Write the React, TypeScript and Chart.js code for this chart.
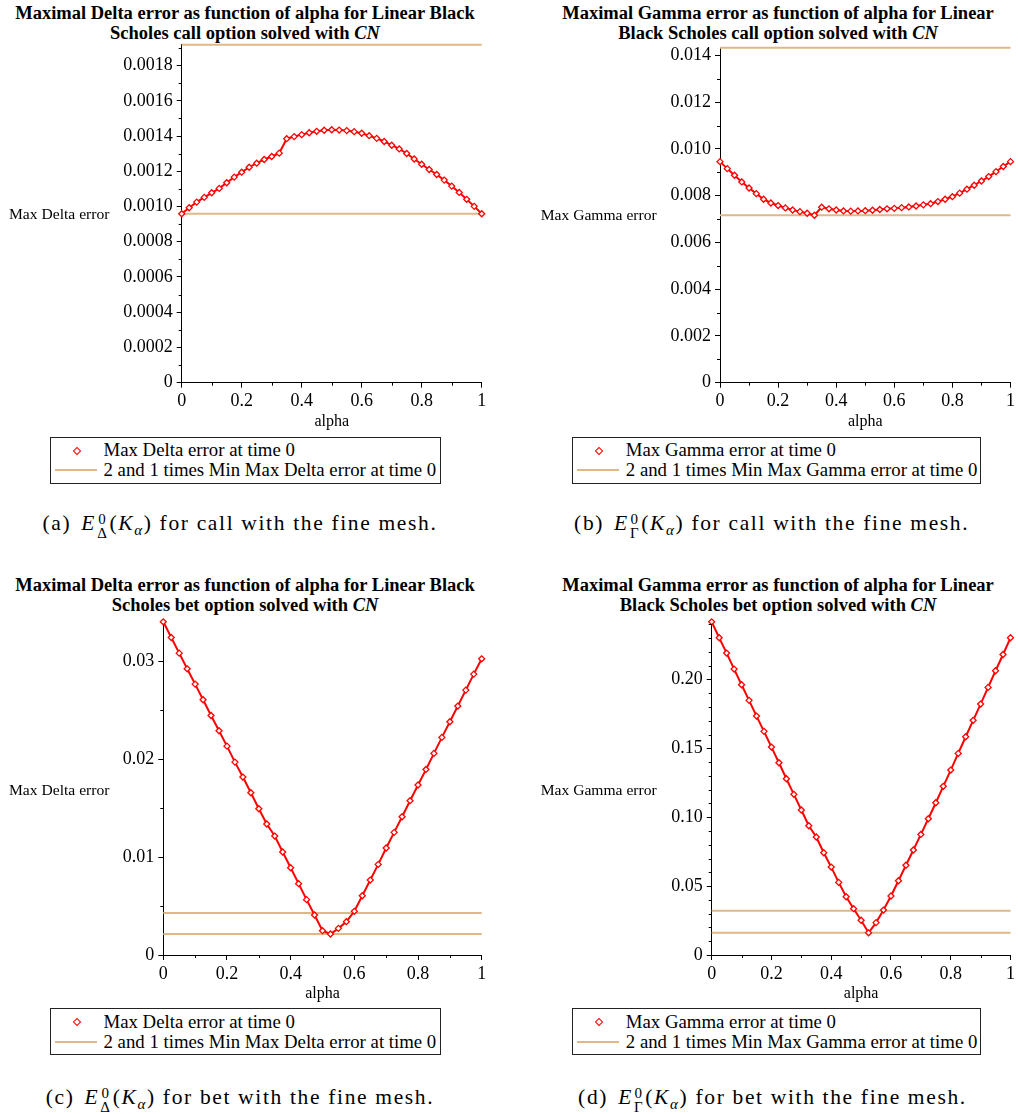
import React, { useEffect, useRef } from "react";
import { Chart, registerables } from "chart.js";

Chart.register(...registerables);

// ---------- data ----------
const ALPHA = [
  0, 0.025, 0.05, 0.075, 0.1, 0.125, 0.15, 0.175, 0.2, 0.225, 0.25, 0.275, 0.3, 0.325, 0.35, 0.375, 0.4, 0.425, 0.45,
  0.475, 0.5, 0.525, 0.55, 0.575, 0.6, 0.625, 0.65, 0.675, 0.7, 0.725, 0.75, 0.775, 0.8, 0.825, 0.85, 0.875, 0.9,
  0.925, 0.95, 0.975, 1,
];

const CALL_DELTA = [
  0.000959, 0.000993, 0.001025, 0.001052, 0.001078, 0.001103, 0.001135, 0.001167, 0.001195, 0.001223, 0.001246,
  0.001267, 0.001284, 0.001303, 0.001385, 0.001397, 0.001408, 0.001419, 0.001427, 0.001433, 0.001436, 0.001434,
  0.001431, 0.001425, 0.001416, 0.001402, 0.001387, 0.001369, 0.001348, 0.001327, 0.001301, 0.00127, 0.00124,
  0.00121, 0.001182, 0.00115, 0.001116, 0.00108, 0.001041, 0.001001, 0.000959,
];
const CALL_GAMMA = [
  0.009459, 0.00916, 0.008875, 0.00859, 0.00833, 0.00809, 0.00785, 0.00769, 0.00758, 0.00748, 0.00739, 0.00732,
  0.00725, 0.007165, 0.00751, 0.00744, 0.00739, 0.00735, 0.00734, 0.00735, 0.00736, 0.00738, 0.00741, 0.00744,
  0.00746, 0.00749, 0.00752, 0.00756, 0.00761, 0.00766, 0.00775, 0.00785, 0.00796, 0.00811, 0.00828, 0.00845,
  0.00863, 0.00882, 0.00903, 0.00925, 0.009459,
];
const BET_DELTA = [
  0.03401, 0.03241, 0.03081, 0.02921, 0.02765, 0.02605, 0.02445, 0.02289, 0.02132, 0.01969, 0.01816, 0.01656,
  0.01493, 0.01337, 0.01214, 0.01051, 0.00891, 0.00728, 0.00565, 0.00408, 0.00248, 0.00214, 0.00272, 0.0034,
  0.00446, 0.00605, 0.00765, 0.00925, 0.01092, 0.01252, 0.01411, 0.01575, 0.01735, 0.01894, 0.02058, 0.02221,
  0.02381, 0.02541, 0.02704, 0.02867, 0.03023,
];
const BET_GAMMA = [
  0.2418, 0.2302, 0.2191, 0.2075, 0.1961, 0.1848, 0.1734, 0.1623, 0.1509, 0.1395, 0.1279, 0.1166, 0.1052, 0.0938,
  0.0856, 0.0742, 0.0638, 0.0527, 0.0423, 0.0336, 0.0252, 0.0161, 0.0235, 0.0326, 0.0428, 0.0539, 0.0651, 0.0762,
  0.0875, 0.0989, 0.1105, 0.1224, 0.1342, 0.1463, 0.1584, 0.1703, 0.1821, 0.1942, 0.2063, 0.2181, 0.2302,
];

// minimum of each max-error curve (reference lines drawn at 1x and 2x)
const CALL_DELTA_MIN = 0.000959;
const CALL_GAMMA_MIN = 0.007165;
const BET_DELTA_MIN = 0.00214;
const BET_GAMMA_MIN = 0.0161;

// axis tops
const CALL_DELTA_YMAX = 0.001918;
const CALL_GAMMA_YMAX = 0.01433;
const BET_DELTA_YMAX = 0.03401;
const BET_GAMMA_YMAX = 0.2418;

// ticks
const X_TICKS = [0, 0.2, 0.4, 0.6, 0.8, 1];
const X_LABELS = ["0", "0.2", "0.4", "0.6", "0.8", "1"];
const X_MINOR = [0.1, 0.3, 0.5, 0.7, 0.9];

const CALL_DELTA_YTICKS = [0, 0.0002, 0.0004, 0.0006, 0.0008, 0.001, 0.0012, 0.0014, 0.0016, 0.0018];
const CALL_DELTA_YLABELS = ["0", "0.0002", "0.0004", "0.0006", "0.0008", "0.0010", "0.0012", "0.0014", "0.0016", "0.0018"];
const CALL_DELTA_YMINOR = [0.0001, 0.0003, 0.0005, 0.0007, 0.0009, 0.0011, 0.0013, 0.0015, 0.0017, 0.0019];

const CALL_GAMMA_YTICKS = [0, 0.002, 0.004, 0.006, 0.008, 0.01, 0.012, 0.014];
const CALL_GAMMA_YLABELS = ["0", "0.002", "0.004", "0.006", "0.008", "0.010", "0.012", "0.014"];
const CALL_GAMMA_YMINOR = [0.001, 0.003, 0.005, 0.007, 0.009, 0.011, 0.013];

const BET_DELTA_YTICKS = [0, 0.01, 0.02, 0.03];
const BET_DELTA_YLABELS = ["0", "0.01", "0.02", "0.03"];
const BET_DELTA_YMINOR = [0.005, 0.015, 0.025];

const BET_GAMMA_YTICKS = [0, 0.05, 0.1, 0.15, 0.2];
const BET_GAMMA_YLABELS = ["0", "0.05", "0.10", "0.15", "0.20"];
const BET_GAMMA_YMINOR = [
  0.01, 0.02, 0.03, 0.04, 0.06, 0.07, 0.08, 0.09, 0.11, 0.12, 0.13, 0.14, 0.16, 0.17, 0.18, 0.19, 0.21, 0.22, 0.23,
  0.24,
];

// ---------- styling ----------
const SERIF = '"Liberation Serif", "Times New Roman", serif';
const RED = "#ff0000";
const TAN = "#DEB887";

type Box = { left: number; top: number; width: number; height: number };
type Plot = { L: number; T: number; R: number; B: number };

type PanelProps = {
  values: number[];
  minVal: number;
  yMax: number;
  yTicks: number[];
  yLabels: string[];
  yMinor: number[];
  canvas: Box;
  plot: Plot;
};

function ChartPanel(p: PanelProps) {
  const ref = useRef<HTMLCanvasElement | null>(null);
  const c = p.canvas;
  const a = p.plot;

  useEffect(() => {
    if (!ref.current) return;
    const padTop = a.T - c.top;
    const padRight = c.left + c.width - a.R;
    const yW = a.L - c.left;
    const xH = c.top + c.height - a.B;

    const minorPlugin = {
      id: "minorTicks",
      afterDraw(chart: any) {
        const ctx = chart.ctx;
        const xs = chart.scales.x;
        const ys = chart.scales.y;
        ctx.save();
        ctx.strokeStyle = "#000";
        ctx.lineWidth = 1;
        ctx.beginPath();
        for (const v of X_MINOR) {
          const px = Math.round(xs.getPixelForValue(v)) + 0.5;
          ctx.moveTo(px, xs.top);
          ctx.lineTo(px, xs.top + 3);
        }
        for (const v of p.yMinor) {
          if (v > p.yMax) continue;
          const py = Math.round(ys.getPixelForValue(v)) + 0.5;
          ctx.moveTo(ys.right - 3, py);
          ctx.lineTo(ys.right, py);
        }
        ctx.stroke();
        ctx.restore();
      },
    };

    const chart = new Chart(ref.current, {
      type: "line",
      data: {
        datasets: [
          {
            data: ALPHA.map((x, i) => ({ x, y: p.values[i] })),
            borderColor: RED,
            borderWidth: 2,
            pointStyle: "rectRot",
            pointRadius: 3,
            pointBorderWidth: 1.3,
            pointBorderColor: RED,
            pointBackgroundColor: "#ffffff",
            tension: 0,
            clip: false,
          } as any,
          {
            data: [
              { x: 0, y: 2 * p.minVal },
              { x: 1, y: 2 * p.minVal },
            ],
            borderColor: TAN,
            borderWidth: 2,
            pointRadius: 0,
            clip: false,
          } as any,
          {
            data: [
              { x: 0, y: p.minVal },
              { x: 1, y: p.minVal },
            ],
            borderColor: TAN,
            borderWidth: 2,
            pointRadius: 0,
            clip: false,
          } as any,
        ],
      },
      options: {
        animation: false,
        responsive: false,
        maintainAspectRatio: false,
        events: [],
        layout: { padding: { top: padTop, right: padRight, left: 0, bottom: 0 } },
        plugins: {
          legend: { display: false },
          title: { display: false },
          tooltip: { enabled: false },
        },
        scales: {
          x: {
            type: "linear",
            min: 0,
            max: 1,
            afterFit: (s: any) => {
              s.height = xH;
            },
            afterBuildTicks: (s: any) => {
              s.ticks = X_TICKS.map((v) => ({ value: v }));
            },
            ticks: {
              callback: (_v: any, i: number) => X_LABELS[i],
              font: { family: SERIF, size: 18 },
              color: "#000",
              padding: 3,
              maxRotation: 0,
              autoSkip: false,
            },
            grid: { drawOnChartArea: false, tickLength: 5, tickColor: "#000", color: "#000" },
            border: { color: "#000", width: 1 },
            title: { display: true, text: "alpha", font: { family: SERIF, size: 16 }, color: "#000", padding: 0 },
          },
          y: {
            type: "linear",
            min: 0,
            max: p.yMax,
            afterFit: (s: any) => {
              s.width = yW;
            },
            afterBuildTicks: (s: any) => {
              s.ticks = p.yTicks.map((v) => ({ value: v }));
            },
            ticks: {
              callback: (_v: any, i: number) => p.yLabels[i],
              font: { family: SERIF, size: 18 },
              color: "#000",
              padding: 4,
              autoSkip: false,
            },
            grid: { drawOnChartArea: false, tickLength: 5, tickColor: "#000", color: "#000" },
            border: { color: "#000", width: 1 },
          },
        },
      } as any,
      plugins: [minorPlugin],
    });
    return () => chart.destroy();
  }, []);

  return (
    <canvas
      ref={ref}
      width={c.width}
      height={c.height}
      style={{ position: "absolute", left: c.left, top: c.top, width: c.width, height: c.height }}
    />
  );
}

function Title({ cx, top, line1, line2 }: { cx: number; top: number; line1: string; line2: string }) {
  return (
    <div
      style={{
        position: "absolute",
        left: cx - 270,
        top,
        width: 540,
        textAlign: "center",
        font: `bold 18.5px ${SERIF}`,
        lineHeight: "20.7px",
        color: "#000",
        whiteSpace: "nowrap",
      }}
    >
      {line1}
      <br />
      {line2} <i>CN</i>
    </div>
  );
}

function YLabel({ left, cy, text }: { left: number; cy: number; text: string }) {
  return (
    <div
      style={{
        position: "absolute",
        left,
        top: cy - 9,
        font: `15.6px ${SERIF}`,
        lineHeight: "18px",
        color: "#000",
        whiteSpace: "nowrap",
      }}
    >
      {text}
    </div>
  );
}

function Legend({ left, top, width, label1, label2 }: { left: number; top: number; width: number; label1: string; label2: string }) {
  return (
    <div
      style={{
        position: "absolute",
        left,
        top,
        width,
        height: 47,
        border: "1.5px solid #222",
        boxSizing: "border-box",
        background: "#fff",
      }}
    >
      <div
        style={{
          position: "absolute",
          left: 22.5,
          top: 10,
          width: 4,
          height: 4,
          border: `1.3px solid ${RED}`,
          background: "#fff",
          transform: "rotate(45deg)",
        }}
      />
      <div style={{ position: "absolute", left: 3.5, top: 31.5, width: 42, height: 2, background: TAN }} />
      <div
        style={{ position: "absolute", left: 52.5, top: 1.5, font: `18.8px ${SERIF}`, lineHeight: "22px", whiteSpace: "nowrap" }}
      >
        {label1}
      </div>
      <div
        style={{ position: "absolute", left: 52.5, top: 21.5, font: `18.8px ${SERIF}`, lineHeight: "22px", whiteSpace: "nowrap" }}
      >
        {label2}
      </div>
    </div>
  );
}

function Caption({ cx, cy, tag, sub, kind }: { cx: number; cy: number; tag: string; sub: string; kind: string }) {
  return (
    <div
      style={{
        position: "absolute",
        left: cx - 250,
        top: cy - 14,
        width: 500,
        textAlign: "center",
        font: `21.5px ${SERIF}`,
        lineHeight: "28px",
        letterSpacing: "1.65px",
        color: "#000",
        whiteSpace: "nowrap",
      }}
    >
      <span>({tag})</span>
      <span style={{ display: "inline-block", width: 10 }} />
      <i>E</i>
      <span
        style={{
          display: "inline-flex",
          flexDirection: "column",
          verticalAlign: "middle",
          fontSize: "15px",
          lineHeight: "14px",
          marginLeft: 1,
          marginRight: 1,
          position: "relative",
          top: 1,
        }}
      >
        <span>0</span>
        <span>{sub}</span>
      </span>
      (<i>K</i>
      <sub style={{ fontSize: "15px", fontStyle: "italic" }}>α</sub>) for {kind} with the fine mesh.
    </div>
  );
}

export default function App() {
  return (
    <div style={{ position: "absolute", left: 0, top: 0, width: 1018, height: 1114, background: "#fff", overflow: "hidden" }}>
      {/* (a) */}
      <Title cx={245} top={2.5} line1="Maximal Delta error as function of alpha for Linear Black" line2="Scholes call option solved with" />
      <ChartPanel
        values={CALL_DELTA}
        minVal={CALL_DELTA_MIN}
        yMax={CALL_DELTA_YMAX}
        yTicks={CALL_DELTA_YTICKS}
        yLabels={CALL_DELTA_YLABELS}
        yMinor={CALL_DELTA_YMINOR}
        canvas={{ left: 0, top: 30, width: 490, height: 401 }}
        plot={{ L: 181.7, T: 44, R: 481.7, B: 382.7 }}
      />
      <YLabel left={9} cy={214} text="Max Delta error" />
      <Legend left={50} top={436.7} width={390.7} label1="Max Delta error at time 0" label2="2 and 1 times Min Max Delta error at time 0" />
      <Caption cx={240} cy={523.3} tag="a" sub="Δ" kind="call" />

      {/* (b) */}
      <Title cx={778} top={2.5} line1="Maximal Gamma error as function of alpha for Linear" line2="Black Scholes call option solved with" />
      <ChartPanel
        values={CALL_GAMMA}
        minVal={CALL_GAMMA_MIN}
        yMax={CALL_GAMMA_YMAX}
        yTicks={CALL_GAMMA_YTICKS}
        yLabels={CALL_GAMMA_YLABELS}
        yMinor={CALL_GAMMA_YMINOR}
        canvas={{ left: 520, top: 33, width: 498, height: 398 }}
        plot={{ L: 720, T: 47.3, R: 1013.3, B: 382.7 }}
      />
      <YLabel left={540.7} cy={215} text="Max Gamma error" />
      <Legend left={572.3} top={436.7} width={408.7} label1="Max Gamma error at time 0" label2="2 and 1 times Min Max Gamma error at time 0" />
      <Caption cx={771.7} cy={523.3} tag="b" sub="Γ" kind="call" />

      {/* (c) */}
      <Title cx={245} top={574.5} line1="Maximal Delta error as function of alpha for Linear Black" line2="Scholes bet option solved with" />
      <ChartPanel
        values={BET_DELTA}
        minVal={BET_DELTA_MIN}
        yMax={BET_DELTA_YMAX}
        yTicks={BET_DELTA_YTICKS}
        yLabels={BET_DELTA_YLABELS}
        yMinor={BET_DELTA_YMINOR}
        canvas={{ left: 0, top: 607, width: 490, height: 396 }}
        plot={{ L: 163.3, T: 621.7, R: 481.7, B: 955 }}
      />
      <YLabel left={9} cy={790} text="Max Delta error" />
      <Legend left={50} top={1008.3} width={390.7} label1="Max Delta error at time 0" label2="2 and 1 times Min Max Delta error at time 0" />
      <Caption cx={240} cy={1096.7} tag="c" sub="Δ" kind="bet" />

      {/* (d) */}
      <Title cx={778} top={574.5} line1="Maximal Gamma error as function of alpha for Linear" line2="Black Scholes bet option solved with" />
      <ChartPanel
        values={BET_GAMMA}
        minVal={BET_GAMMA_MIN}
        yMax={BET_GAMMA_YMAX}
        yTicks={BET_GAMMA_YTICKS}
        yLabels={BET_GAMMA_YLABELS}
        yMinor={BET_GAMMA_YMINOR}
        canvas={{ left: 520, top: 607, width: 498, height: 396 }}
        plot={{ L: 711.7, T: 621.7, R: 1013.3, B: 955 }}
      />
      <YLabel left={540.7} cy={790} text="Max Gamma error" />
      <Legend left={572.3} top={1008.3} width={408.7} label1="Max Gamma error at time 0" label2="2 and 1 times Min Max Gamma error at time 0" />
      <Caption cx={772.5} cy={1096.7} tag="d" sub="Γ" kind="bet" />
    </div>
  );
}
